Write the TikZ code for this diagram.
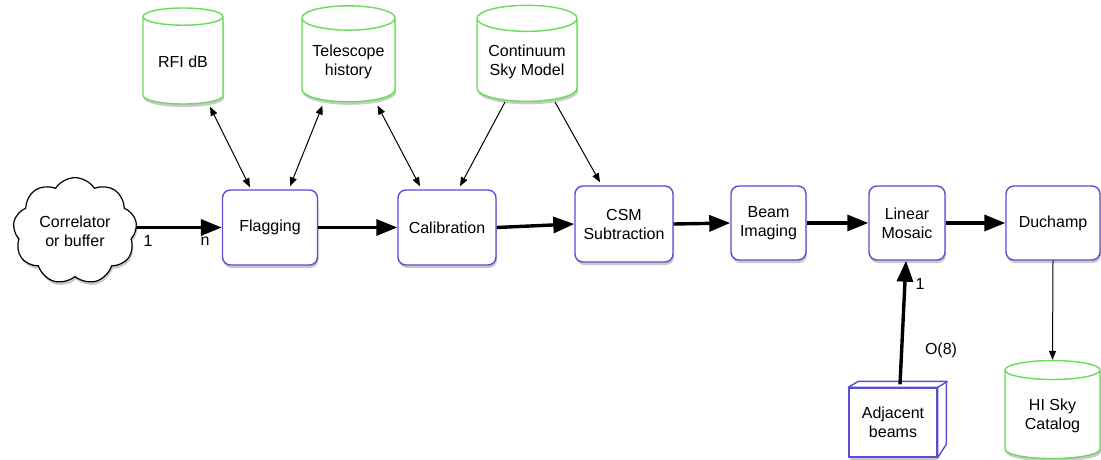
\documentclass[tikz,border=0pt]{standalone}
\usepackage{fontspec}
\setmainfont{Liberation Sans}
\usetikzlibrary{shapes.geometric,shapes.symbols,shadows,arrows.meta}

\definecolor{boxblue}{HTML}{5A4ED2}
\definecolor{dbgreen}{HTML}{6ADB5A}

\begin{document}
\begin{tikzpicture}[x=1pt,y=-1pt,
  every node/.style={font=\fontsize{16}{19}\selectfont},
  softshadow/.style={drop shadow={shadow xshift=1pt,shadow yshift=-3pt,opacity=0.3,fill=black!70}},
  procbox/.style={draw=boxblue,line width=1.4pt,fill=white,rounded corners=8pt,
    align=center,minimum width=95pt,minimum height=75pt,inner sep=2pt,softshadow},
  store/.style={cylinder,shape border rotate=90,aspect=0.32,draw=dbgreen,line width=1.4pt,
    fill=white,align=center,minimum width=80pt,minimum height=96pt,inner sep=2pt,softshadow},
  flow/.style={line width=3.4pt,-{Triangle[length=21pt,width=16pt]}},
  link/.style={line width=1pt,{Triangle[length=9pt,width=7pt]}-{Triangle[length=9pt,width=7pt]}},
  feed/.style={line width=1pt,-{Triangle[length=9pt,width=7pt]}},
  mark label/.style={inner sep=0pt}
]
\useasboundingbox (0,0) rectangle (1101,460);

% data source
\node[cloud,cloud puffs=9,cloud puff arc=115,aspect=1.2,draw,line width=1.2pt,fill=white,
  minimum width=124pt,minimum height=104pt,align=center,softshadow] (src) at (75,231)
  {Correlator\\or buffer};

% processing chain
\node[procbox] (flag) at (270,227.5) {Flagging};
\node[procbox,minimum width=98pt] (cal) at (447,227.5) {Calibration};
\node[procbox,minimum width=98pt,minimum height=76pt] (csm) at (624,224) {CSM\\Subtraction};
\node[procbox,minimum width=75pt,minimum height=74pt] (beam) at (768.5,223) {Beam\\Imaging};
\node[procbox,minimum width=76pt,minimum height=74pt] (mos) at (907,223) {Linear\\Mosaic};
\node[procbox,minimum width=94pt,minimum height=74pt] (duch) at (1053,223) {Duchamp};

% databases
\node[store] (rfi) at (183,62) {RFI dB};
\node[store,minimum width=93pt] (tel) at (348.5,62) {Telescope\\history};
\node[store,minimum width=100pt] (cont) at (527,62) {Continuum\\Sky Model};
\node[store,minimum width=95pt,minimum height=98pt] (hi) at (1052.5,416) {HI Sky\\Catalog};

% adjacent beams: box drawn with a top and a side face
\node[draw=boxblue,line width=1.4pt,fill=white,minimum width=88pt,minimum height=69pt,
  align=center,softshadow] (adj) at (893,422.5) {Adjacent\\beams};
\draw[boxblue,line width=1.4pt,fill=white,line join=round]
  (adj.north west) -- ++(10,-6) -- ++(88,0) -- ++(0,63) -- (adj.south east)
  -- (adj.north east) -- cycle;
\draw[boxblue,line width=1.4pt] (adj.north east) -- ++(10,-6);
\coordinate (adjtop) at ([xshift=7pt,yshift=3pt]adj.north);

% main data flow
\draw[flow] (src.east |- flag.west) -- (flag.west);
\draw[flow] (flag.east) -- (cal.west);
\draw[flow] (cal.east) -- (csm.west);
\draw[flow] (csm.east) -- (beam.west);
\draw[flow] (beam.east) -- (mos.west);
\draw[flow] (mos.east) -- (duch.west);
\draw[flow] (adjtop) -- ([xshift=-1pt]mos.south);
\draw[feed] (duch.south) -- (hi.north);

% database access
\draw[link] ([xshift=27pt,yshift=-2pt]rfi.south) -- ([xshift=-20pt,yshift=2pt]flag.north);
\draw[link] ([xshift=-26pt,yshift=-3pt]tel.south) -- ([xshift=20pt,yshift=3pt]flag.north);
\draw[link] ([xshift=29pt,yshift=-3pt]tel.south) -- ([xshift=-27pt,yshift=3pt]cal.north);
\draw[feed] ([xshift=-22pt]cont.south) -- ([xshift=13pt,yshift=3pt]cal.north);
\draw[feed] ([xshift=28pt]cont.south) -- ([xshift=-24pt,yshift=3pt]csm.north);

% multiplicities
\node[mark label] (m1) at (148,241) {1};
\node[mark label] (mn) at (205,241) {n};
\node[mark label] (m2) at (920,284) {1};
\node[mark label] (m8) at (941,350) {O(8)};
\end{tikzpicture}
\end{document}
